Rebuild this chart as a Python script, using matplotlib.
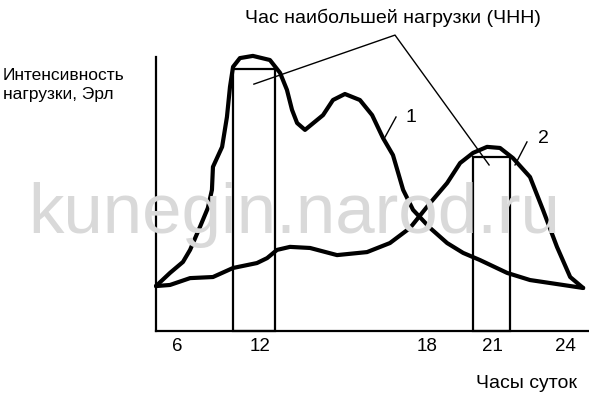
import matplotlib
matplotlib.use("Agg")
import matplotlib.pyplot as plt
from matplotlib.patches import Rectangle

plt.rcParams['font.family'] = ['Liberation Sans', 'DejaVu Sans']

# hours (drawing is roughly linear from 12 onward; "6" is squeezed in)
tick_pos = [8.73, 12.0, 18.57, 21.13, 24.0]
tick_labels = ['6', '12', '18', '21', '24']

# curve 1 - business load, peak around 11-12 h
hours_1 = [7.91, 8.46, 8.97, 9.25, 9.64, 9.95, 10.11, 10.15, 10.51, 10.70,
           10.82, 10.94, 11.21, 11.72, 12.39, 12.79, 13.06, 13.26, 13.46, 13.77,
           14.48, 14.87, 15.34, 15.93, 16.41, 16.84, 17.23, 17.63, 18.02, 18.69,
           19.36, 19.99, 20.65, 21.72, 22.62, 23.92, 24.71]
load_1 = [16.4, 21.2, 25.2, 29.6, 38.0, 44.9, 51.5, 59.9, 67.2, 78.1,
          89.1, 96.4, 99.6, 100.4, 98.9, 94.2, 88.0, 80.7, 75.9, 73.4,
          78.8, 84.3, 86.5, 84.3, 78.8, 70.4, 64.2, 51.5, 44.2, 37.6,
          32.1, 28.5, 25.9, 21.2, 18.6, 16.8, 15.7]

# curve 2 - residential load, peak around 21 h
hours_2 = [7.91, 8.46, 9.25, 10.15, 10.94, 11.88, 12.28, 12.67, 13.18, 13.97,
           15.03, 16.21, 17.11, 17.90, 18.69, 19.36, 19.87, 20.38, 20.93, 21.44,
           21.95, 22.62, 23.13, 23.68, 24.20, 24.71]
load_2 = [16.4, 16.8, 19.3, 19.7, 23.0, 24.8, 26.6, 29.6, 30.7, 30.3,
          27.7, 28.8, 32.1, 37.6, 46.7, 54.0, 61.3, 65.0, 67.2, 66.8,
          63.1, 56.2, 44.2, 30.7, 19.7, 15.7]

# busy hour boxes: (start, end, height)
busy_1 = (10.94, 12.59, 95.6)
busy_2 = (20.38, 21.83, 63.5)

# pointer lines to the title
pointer_x = [11.76, 17.31, 21.01]
pointer_y = [90.1, 108.0, 60.6]


def main():
    fig = plt.figure(figsize=(5.89, 4.04), dpi=100)

    # watermark behind everything
    fig.text(28 / 589, 1 - 233 / 404, 'kunegin.narod.ru', fontsize=51,
             color='#d9d9d9', ha='left', va='baseline', zorder=0)

    ax = fig.add_axes([156 / 589, 73 / 404, 433 / 589, 274 / 404])
    ax.patch.set_visible(False)
    ax.set_xlim(7.91, 24.94)
    ax.set_ylim(0, 100)

    for side in ['top', 'right']:
        ax.spines[side].set_visible(False)
    for side in ['left', 'bottom']:
        ax.spines[side].set_linewidth(1.6)

    ax.set_yticks([])
    ax.set_xticks(tick_pos)
    ax.set_xticklabels(tick_labels, fontsize=13.5)
    ax.tick_params(axis='x', length=0, pad=5)

    for x0, x1, h in [busy_1, busy_2]:
        ax.add_patch(Rectangle((x0, 0), x1 - x0, h, fill=False,
                               edgecolor='black', linewidth=1.6, clip_on=False))

    ax.plot(hours_1, load_1, color='black', linewidth=3, clip_on=False,
            solid_capstyle='round', solid_joinstyle='round')
    ax.plot(hours_2, load_2, color='black', linewidth=3, clip_on=False,
            solid_capstyle='round', solid_joinstyle='round')

    ax.plot(pointer_x, pointer_y, color='black', linewidth=1, clip_on=False)
    ax.plot([16.92, 17.35], [70.8, 78.1], color='black', linewidth=1, clip_on=False)
    ax.plot([22.03, 22.50], [60.6, 69.0], color='black', linewidth=1, clip_on=False)
    ax.text(17.94, 78.1, '1', fontsize=14, ha='center', va='center')
    ax.text(23.13, 70.1, '2', fontsize=14, ha='center', va='center')

    fig.text(393 / 589, 1 - 18 / 404, 'Час наибольшей нагрузки (ЧНН)',
             fontsize=14, ha='center', va='center')
    fig.text(3 / 589, 1 - 85 / 404, 'Интенсивность\nнагрузки, Эрл',
             fontsize=12.5, ha='left', va='center', linespacing=1.35)
    fig.text(527 / 589, 1 - 383 / 404, 'Часы суток',
             fontsize=14, ha='center', va='center')

    fig.savefig('out.png', dpi=100)
    plt.close(fig)


if __name__ == '__main__':
    main()
